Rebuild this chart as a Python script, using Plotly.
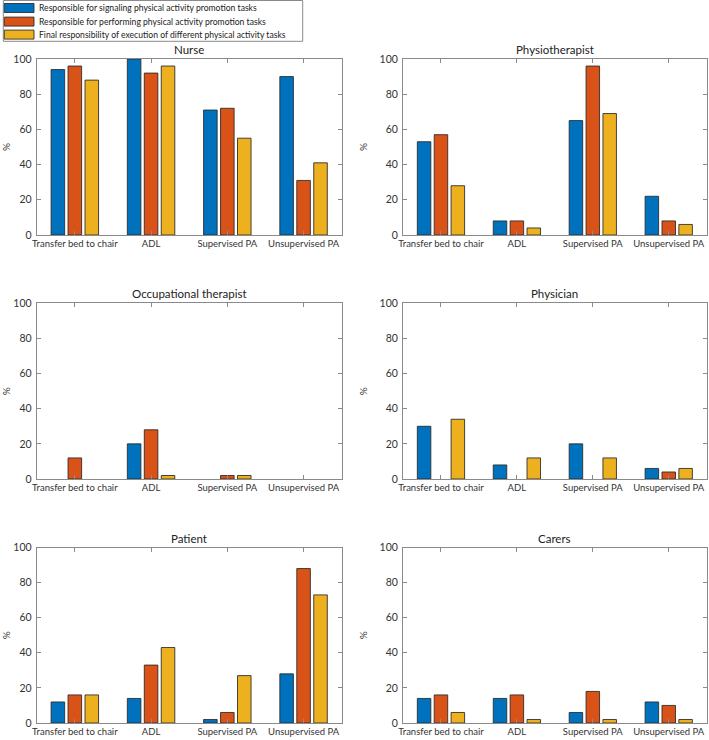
import plotly.graph_objects as go

categories = ["Transfer bed to chair", "ADL", "Supervised PA", "Unsupervised PA"]
series_names = [
    "Responsible for signaling physical activity promotion tasks",
    "Responsible for performing physical activity promotion tasks",
    "Final responsibility of execution of different physical activity tasks",
]
professions = ["Nurse", "Physiotherapist", "Occupational therapist", "Physician", "Patient", "Carers"]

nurse_signal = [94, 100, 71, 90]
nurse_perform = [96, 92, 72, 31]
nurse_final = [88, 96, 55, 41]

physio_signal = [53, 8, 65, 22]
physio_perform = [57, 8, 96, 8]
physio_final = [28, 4, 69, 6]

ot_signal = [0, 20, 0, 0]
ot_perform = [12, 28, 2, 0]
ot_final = [0, 2, 2, 0]

physician_signal = [30, 8, 20, 6]
physician_perform = [0, 0, 0, 4]
physician_final = [34, 12, 12, 6]

patient_signal = [12, 14, 2, 28]
patient_perform = [16, 33, 6, 88]
patient_final = [16, 43, 27, 73]

carers_signal = [14, 14, 6, 12]
carers_perform = [16, 16, 18, 10]
carers_final = [6, 2, 2, 2]

yticks = [0, 20, 40, 60, 80, 100]

panel_data = [
    (nurse_signal, nurse_perform, nurse_final),
    (physio_signal, physio_perform, physio_final),
    (ot_signal, ot_perform, ot_final),
    (physician_signal, physician_perform, physician_final),
    (patient_signal, patient_perform, patient_final),
    (carers_signal, carers_perform, carers_final),
]

colors = ["#0072BD", "#D95319", "#EDB120"]

W, H = 709, 740
col_px = [(36.7, 341.7), (403.0, 706.7)]
row_px = [(59.0, 235.0), (303.3, 479.0), (547.5, 723.0)]

FONT = "Lato"
TEXT = "#333333"
AXIS = "#8a8a8a"
EDGE = "rgba(40,40,40,0.85)"

def px_x(v):
    return v / W

def px_y(v):
    return 1 - v / H

fig = go.Figure()
annotations = []
shapes = []
layout_axes = {}

for i, (title, vals) in enumerate(zip(professions, panel_data)):
    r, c = divmod(i, 2)
    n = i + 1
    xa = "x" if n == 1 else f"x{n}"
    ya = "y" if n == 1 else f"y{n}"
    for k in range(3):
        fig.add_trace(go.Bar(
            x=categories, y=vals[k], name=series_names[k],
            marker=dict(color=colors[k],
                        line=dict(color=EDGE, width=[1 if v > 0 else 0 for v in vals[k]])),
            xaxis=xa, yaxis=ya, showlegend=False,
        ))
    x0, x1 = col_px[c]
    ytop, ybot = row_px[r]
    xd = [px_x(x0), px_x(x1)]
    yd = [px_y(ybot), px_y(ytop)]
    layout_axes["xaxis" if n == 1 else f"xaxis{n}"] = dict(
        domain=xd, anchor=ya, type="category", range=[-0.5, 3.5],
        showline=True, linecolor=AXIS, linewidth=1, mirror="ticks",
        ticks="inside", ticklen=4, tickcolor=AXIS, showgrid=False,
        tickfont=dict(family=FONT, size=9.5, color=TEXT), fixedrange=True,
        automargin=False,
    )
    layout_axes["yaxis" if n == 1 else f"yaxis{n}"] = dict(
        domain=yd, anchor=xa, range=[0, 100], tickvals=yticks,
        showline=True, linecolor=AXIS, linewidth=1, mirror="ticks",
        ticks="inside", ticklen=4, tickcolor=AXIS, showgrid=False, zeroline=False,
        tickfont=dict(family=FONT, size=10.5, color=TEXT), automargin=False,
        ticklabelstandoff=2,
        title=dict(text="%", font=dict(family=FONT, size=10, color=TEXT), standoff=10),
    )
    annotations.append(dict(
        text=title, x=(xd[0] + xd[1]) / 2, y=yd[1], xref="paper", yref="paper",
        xanchor="center", yanchor="bottom", yshift=1, showarrow=False,
        font=dict(family=FONT, size=11.5, color="#222222"),
    ))

# legend box drawn with shapes and text
shapes.append(dict(type="rect", xref="paper", yref="paper",
                   x0=px_x(3.3), x1=px_x(302.7), y0=px_y(41.3), y1=px_y(0.5),
                   line=dict(color="#8a8a8a", width=1), fillcolor="white", layer="above"))
row_centers = [8.0, 21.6, 34.6]
for k in range(3):
    yc = row_centers[k]
    shapes.append(dict(type="rect", xref="paper", yref="paper",
                       x0=px_x(4.3), x1=px_x(34.0), y0=px_y(yc + 4.5), y1=px_y(yc - 4.5),
                       line=dict(color=EDGE, width=1), fillcolor=colors[k], layer="above"))
    annotations.append(dict(
        text=series_names[k], x=px_x(36.5), y=px_y(yc), xref="paper", yref="paper",
        xanchor="left", yanchor="middle", showarrow=False,
        font=dict(family=FONT, size=8.6, color="#222222"),
    ))

fig.update_layout(
    width=W, height=H, margin=dict(l=0, r=0, t=0, b=0, autoexpand=False),
    paper_bgcolor="white", plot_bgcolor="white",
    barmode="group", bargap=0.333, bargroupgap=0.2,
    annotations=annotations, shapes=shapes, showlegend=False,
    **layout_axes,
)

fig.write_html(
    "out.html",
    config={"displayModeBar": False},
    post_script="document.body.style.margin='0';document.body.style.overflow='hidden';",
)
